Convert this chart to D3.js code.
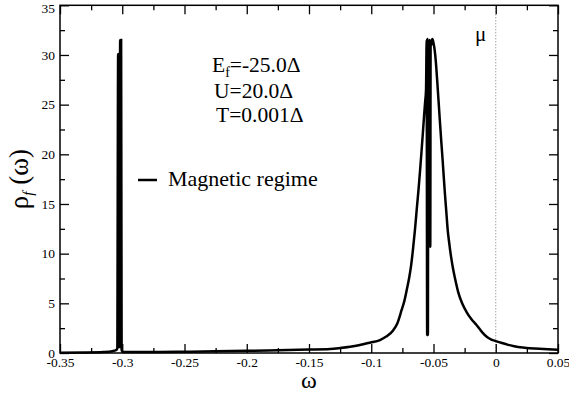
<!DOCTYPE html>
<html><head><meta charset="utf-8">
<script src="https://cdn.jsdelivr.net/npm/d3@7/dist/d3.min.js"></script>
<style>
body{margin:0;background:#fff}
svg{display:block}
svg text{font-family:"Liberation Serif","Times New Roman",Times,"DejaVu Serif",serif !important;}
</style>
</head><body>
<script>
// ---- data ----
const omega = [
  -0.350,-0.330,-0.315,-0.308,-0.305,-0.3040,
  -0.3033,-0.3029,-0.3025,-0.3021,-0.3017,-0.3013,-0.3009,-0.3005,-0.2995,
  -0.290,-0.270,-0.250,-0.225,-0.200,-0.175,-0.150,-0.133,-0.125,-0.117,-0.110,
  -0.101,-0.093,-0.088,-0.0823,-0.0790,-0.0756,-0.0735,-0.0715,-0.0695,-0.0680,
  -0.0665,-0.0649,-0.0635,-0.0620,-0.0607,-0.0595,-0.0585,-0.0575,-0.0567,-0.0560,
  -0.0555,-0.0551,-0.0548,-0.0545,-0.0542,-0.0535,-0.0530,-0.0526,-0.0523,-0.0518,
  -0.0510,-0.0505,-0.0500,-0.0494,-0.0488,-0.0478,-0.0467,-0.0458,-0.0448,-0.0437,
  -0.0426,-0.0417,-0.0408,-0.0397,-0.0386,-0.0376,-0.0367,-0.0354,-0.0341,-0.0320,
  -0.0301,-0.0270,-0.0233,-0.0195,-0.0153,-0.0110,-0.0070,-0.0035,0.0000,0.0050,
  0.0100,0.0150,0.0195,0.0270,0.0350,0.0420,0.0500
];
const rho = [
  0.03,0.05,0.10,0.18,0.28,0.45,
  30.1,0.6,30.1,0.6,31.5,0.6,31.5,0.3,0.10,
  0.09,0.10,0.13,0.17,0.22,0.28,0.34,0.40,0.50,0.63,0.78,
  1.04,1.30,1.65,2.30,3.00,4.33,5.20,6.34,7.60,8.80,
  10.4,12.4,14.4,16.5,18.5,20.5,22.2,24.0,25.3,26.5,
  31.5,1.8,31.6,1.8,31.4,31.0,31.5,10.7,31.3,31.0,
  31.6,31.5,31.2,30.8,30.2,28.8,26.8,25.1,23.2,21.2,
  19.3,17.6,16.0,14.2,12.4,11.3,10.4,9.30,8.35,7.10,
  6.10,5.00,4.10,3.40,2.80,2.10,1.60,1.35,1.20,1.00,
  0.82,0.68,0.57,0.49,0.42,0.37,0.33
];
const xTickValues = [-0.35,-0.30,-0.25,-0.20,-0.15,-0.10,-0.05,0,0.05];
const xTickLabels = ["-0.35","-0.3","-0.25","-0.2","-0.15","-0.1","-0.05","0","0.05"];
const xMinorValues = [-0.325,-0.275,-0.225,-0.175,-0.125,-0.075,-0.025,0.025];
const yTickValues = [0,5,10,15,20,25,30,35];
const yTickLabels = ["0","5","10","15","20","25","30","35"];
const yMinorValues = [2.5,7.5,12.5,17.5,22.5,27.5,32.5];
const paramLines = ["U=20.0\u0394","T=0.001\u0394"];
const efText = "=-25.0\u0394";
const legendLabel = "Magnetic regime";
const muOmega = 0;

// ---- layout ----
const W = 569, H = 394;
const L = 60, R = 558, T = 5.3, B = 353;
const font = "\"Liberation Serif\",\"Times New Roman\",Times,\"DejaVu Serif\",serif";

const svg = d3.select("body").append("svg").attr("width", W).attr("height", H)
  .attr("font-family", font);

const x = d3.scaleLinear().domain([-0.35, 0.05]).range([L, R]);
const y = d3.scaleLinear().domain([0, 35]).range([B, T]);

// mu dotted line
svg.append("line")
  .attr("x1", x(muOmega)).attr("x2", x(muOmega))
  .attr("y1", y(35)).attr("y2", y(0))
  .attr("stroke", "#777").attr("stroke-width", 1).attr("stroke-dasharray", "1,2");

// curve
const pts = omega.map((w, i) => [w, rho[i]]);
svg.append("path").datum(pts)
  .attr("fill", "none").attr("stroke", "#000").attr("stroke-width", 2.5)
  .attr("stroke-linejoin", "miter").attr("stroke-miterlimit", 2)
  .attr("d", d3.line().x(d => x(d[0])).y(d => y(d[1])).curve(d3.curveMonotoneX));

function styleAxis(g, size) {
  g.attr("font-family", font);
  g.select(".domain").remove();
  g.selectAll(".tick line").attr("stroke", "#000").attr("stroke-width", 1.3);
  g.selectAll(".tick text").attr("fill", "#000").attr("font-size", size);
}

// bottom
svg.append("g").attr("transform", `translate(0,${B})`)
  .call(d3.axisBottom(x).tickValues(xTickValues).tickSize(-9).tickPadding(4)
    .tickFormat((d, i) => xTickLabels[i]))
  .call(g => styleAxis(g, 13.5));
svg.append("g").attr("transform", `translate(0,${B})`)
  .call(d3.axisBottom(x).tickValues(xMinorValues).tickSize(-5).tickFormat(""))
  .call(g => styleAxis(g, 13));
// top
svg.append("g").attr("transform", `translate(0,${T})`)
  .call(d3.axisTop(x).tickValues(xTickValues).tickSize(-9).tickFormat(""))
  .call(g => styleAxis(g, 13));
svg.append("g").attr("transform", `translate(0,${T})`)
  .call(d3.axisTop(x).tickValues(xMinorValues).tickSize(-5).tickFormat(""))
  .call(g => styleAxis(g, 13));
// left
svg.append("g").attr("transform", `translate(${L},0)`)
  .call(d3.axisLeft(y).tickValues(yTickValues).tickSize(-9).tickPadding(5)
    .tickFormat((d, i) => yTickLabels[i]))
  .call(g => styleAxis(g, 13.5))
  .call(g => g.selectAll(".tick text").filter((d, i) => i === yTickValues.length - 1).attr("dy", "0.5em"));
svg.append("g").attr("transform", `translate(${L},0)`)
  .call(d3.axisLeft(y).tickValues(yMinorValues).tickSize(-5).tickFormat(""))
  .call(g => styleAxis(g, 13));
// right
svg.append("g").attr("transform", `translate(${R},0)`)
  .call(d3.axisRight(y).tickValues(yTickValues).tickSize(-9).tickFormat(""))
  .call(g => styleAxis(g, 13));
svg.append("g").attr("transform", `translate(${R},0)`)
  .call(d3.axisRight(y).tickValues(yMinorValues).tickSize(-5).tickFormat(""))
  .call(g => styleAxis(g, 13));

// frame
svg.append("rect").attr("x", L).attr("y", T).attr("width", R - L).attr("height", B - T)
  .attr("fill", "none").attr("stroke", "#000").attr("stroke-width", 1.5);

// axis titles
svg.append("text").attr("x", (L + R) / 2).attr("y", 388).attr("text-anchor", "middle")
  .attr("font-size", 24).text("\u03c9");
const yt = svg.append("text").attr("transform", `translate(28,${(T + B) / 2}) rotate(-90)`)
  .attr("text-anchor", "middle").attr("font-size", 27);
yt.append("tspan").text("\u03c1");
yt.append("tspan").attr("dy", 5).attr("font-size", 15).attr("font-style", "italic").text("f");
yt.append("tspan").attr("dy", -5).text(" (\u03c9)");

// parameter annotations
const ef = svg.append("text").attr("x", 212).attr("y", 72).attr("font-size", 21.5);
ef.append("tspan").text("E");
ef.append("tspan").attr("dy", 5).attr("font-size", 14).text("f");
ef.append("tspan").attr("dy", -5).text(efText);
paramLines.forEach((t, i) => {
  svg.append("text").attr("x", i === 0 ? 214 : 216).attr("y", 97.5 + i * 24.5)
    .attr("font-size", 21.5).text(t);
});

// mu label
svg.append("text").attr("x", 475).attr("y", 41).attr("font-size", 21).text("\u03bc");

// legend
svg.append("line").attr("x1", 138).attr("x2", 157).attr("y1", 180).attr("y2", 180)
  .attr("stroke", "#000").attr("stroke-width", 2.5);
svg.append("text").attr("x", 168).attr("y", 186).attr("font-size", 22).text(legendLabel);
</script>
</body></html>
